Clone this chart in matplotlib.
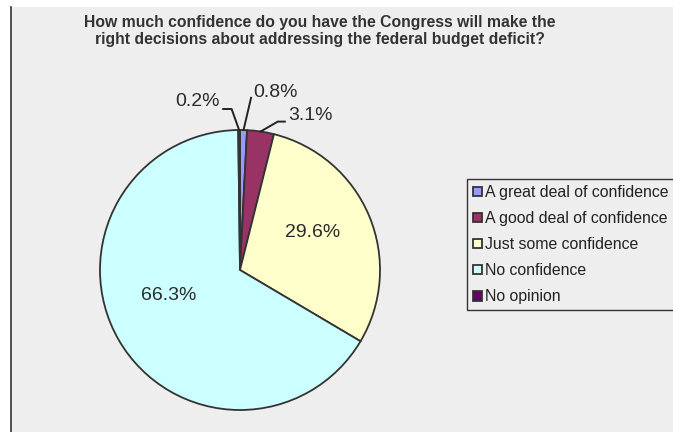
import numpy as np
import matplotlib
matplotlib.use('Agg')
from matplotlib import pyplot as plt
from matplotlib.patches import Rectangle
from matplotlib.lines import Line2D

labels = ['A great deal of confidence', 'A good deal of confidence',
          'Just some confidence', 'No confidence', 'No opinion']
values = [0.8, 3.1, 29.6, 66.3, 0.2]
colors = ['#9999ff', '#993366', '#ffffcc', '#ccffff', '#660066']
title = ('How much confidence do you have the Congress will make the\n'
         'right decisions about addressing the federal budget deficit?')

plt.rcParams['font.family'] = ['Liberation Sans', 'DejaVu Sans']
txt_color = '#2a2a2a'

W, H = 673, 432
fig = plt.figure(figsize=(W / 100, H / 100), dpi=100, facecolor='white')

# gray chart area with a left border line
fig.patches.append(Rectangle((11 / W, 0), 1 - 11 / W, 1 - 7 / H, transform=fig.transFigure,
                             facecolor='#eeeeee', edgecolor='none', zorder=-10))
fig.lines.append(Line2D([11 / W, 11 / W], [0, 1 - 7 / H], transform=fig.transFigure,
                        color='#333333', linewidth=1.2))

fig.text(320 / W, 1 - 31 / H, title, ha='center', va='center', fontsize=11.3,
         fontweight='bold', color='#333333', linespacing=1.2)

# pie: center (240, 270) px, radius 140 px
cx, cy, r = 240, 270, 140
ax = fig.add_axes([(cx - r) / W, (H - cy - r) / H, 2 * r / W, 2 * r / H])

wedges, _ = ax.pie(values, colors=colors, startangle=90, counterclock=False,
                   radius=1, wedgeprops=dict(edgecolor='#333333', linewidth=1.3))
ax.set_xlim(-1, 1)
ax.set_ylim(-1, 1)
ax.axis('off')

# mid angles of each slice
mids = []
a0 = 90
for v in values:
    mids.append(a0 - v * 3.6 / 2)
    a0 -= v * 3.6

# label positions (text centre) and leader line points (ending at the slice edge)
label_pos = {
    0: (0.25, 1.27),
    1: (0.50, 1.107),
    2: (0.52, 0.27),
    3: (-0.51, -0.18),
    4: (-0.307, 1.20),
}
leaders = {
    0: [(0.079, 1.23)],
    1: [(0.32, 1.06), (0.27, 1.06)],
    4: [(-0.12, 1.15), (-0.06, 1.15)],
}
for i, (x, y) in label_pos.items():
    ax.text(x, y, '%.1f%%' % values[i], ha='center', va='center', fontsize=14,
            color=txt_color)
for i, pts in leaders.items():
    a = np.deg2rad(mids[i])
    pts = pts + [(np.cos(a), np.sin(a))]
    xs, ys = zip(*pts)
    ax.plot(xs, ys, color='#222222', linewidth=1.4, clip_on=False)

leg = fig.legend(wedges, labels, loc='upper left', bbox_to_anchor=(467 / W, 1 - 179 / H),
                 borderaxespad=0, fontsize=11.4, handlelength=0.55, handleheight=0.55,
                 handletextpad=0.2, labelspacing=0.70, borderpad=0.38,
                 frameon=True, fancybox=False, framealpha=1)
leg.get_frame().set_facecolor('#eeeeee')
leg.get_frame().set_edgecolor('#333333')
leg.get_frame().set_linewidth(1.0)
for t in leg.get_texts():
    t.set_color('#222222')

fig.savefig('out.png', dpi=100)
